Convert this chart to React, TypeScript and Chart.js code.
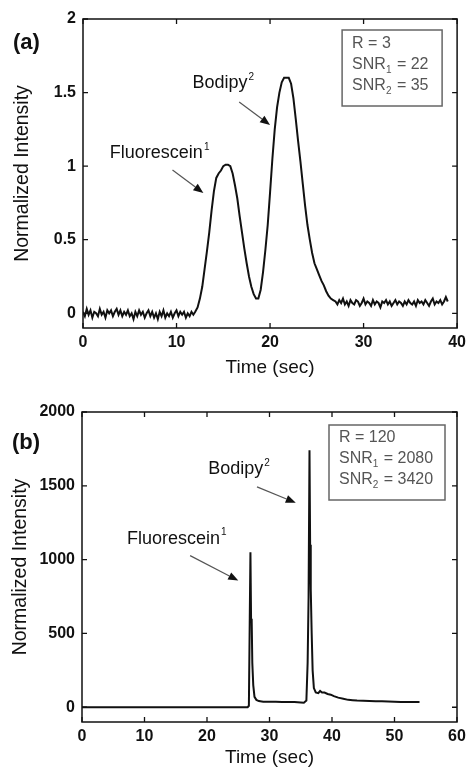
import React, { useEffect, useRef } from "react";
import { Chart, registerables } from "chart.js";

Chart.register(...registerables);

// ---------- DATA ----------
// Panel (a): [time (sec), normalized intensity]
const traceA: [number, number][] = [
  [0, 0.01], [0.2, -0.02], [0.4, 0.03], [0.6, -0.01], [0.8, 0.02], [1.0, -0.03], [1.2, 0.01], [1.4, 0.0],
  [1.6, -0.02], [1.8, 0.03], [2.0, -0.01], [2.2, 0.01], [2.4, -0.03], [2.6, 0.02], [2.8, 0.0], [3.0, 0.02],
  [3.2, -0.02], [3.4, 0.01], [3.6, 0.03], [3.8, -0.01], [4.0, 0.02], [4.2, -0.02], [4.4, 0.01], [4.6, -0.01],
  [4.8, 0.02], [5.0, -0.02], [5.2, 0.0], [5.4, -0.04], [5.6, 0.01], [5.8, -0.02], [6.0, 0.02], [6.2, -0.01],
  [6.4, 0.01], [6.6, -0.03], [6.8, 0.0], [7.0, 0.02], [7.2, -0.02], [7.4, 0.01], [7.6, -0.03], [7.8, 0.0],
  [8.0, -0.04], [8.2, 0.01], [8.4, -0.02], [8.6, 0.02], [8.8, -0.03], [9.0, 0.0], [9.2, -0.02], [9.4, 0.01],
  [9.6, -0.03], [9.8, 0.0], [10.0, 0.02], [10.2, -0.02], [10.4, 0.01], [10.6, -0.01], [10.8, 0.01], [11.0, -0.03],
  [11.2, 0.0], [11.4, -0.02], [11.6, 0.01], [11.8, -0.01],
  [12.0, 0.01], [12.25, 0.04], [12.5, 0.1], [12.75, 0.18], [13.0, 0.3], [13.25, 0.42], [13.5, 0.55], [13.75, 0.7],
  [14.0, 0.83], [14.25, 0.92], [14.5, 0.95], [14.75, 0.97], [15.0, 1.0], [15.25, 1.01], [15.5, 1.01], [15.75, 1.0],
  [16.0, 0.95], [16.25, 0.87], [16.5, 0.78], [16.75, 0.66], [17.0, 0.55], [17.25, 0.44], [17.5, 0.34], [17.75, 0.25],
  [18.0, 0.18], [18.25, 0.13], [18.5, 0.1], [18.75, 0.1], [19.0, 0.16], [19.25, 0.28], [19.5, 0.43], [19.75, 0.6],
  [20.0, 0.82], [20.25, 1.05], [20.5, 1.25], [20.75, 1.4], [21.0, 1.5], [21.25, 1.57], [21.5, 1.6], [21.75, 1.6],
  [22.0, 1.6], [22.25, 1.56], [22.5, 1.46], [22.75, 1.32], [23.0, 1.17], [23.25, 1.03], [23.5, 0.88], [23.75, 0.73],
  [24.0, 0.6], [24.25, 0.5], [24.5, 0.41], [24.75, 0.34], [25.0, 0.3], [25.25, 0.26], [25.5, 0.22], [25.75, 0.19],
  [26.0, 0.15], [26.25, 0.12], [26.5, 0.1], [26.75, 0.09], [27.0, 0.08],
  [27.2, 0.06], [27.4, 0.09], [27.6, 0.07], [27.8, 0.1], [28.0, 0.06], [28.2, 0.08], [28.4, 0.05], [28.6, 0.09],
  [28.8, 0.07], [29.0, 0.06], [29.2, 0.09], [29.4, 0.08], [29.6, 0.05], [29.8, 0.07], [30.0, 0.1], [30.2, 0.06],
  [30.4, 0.08], [30.6, 0.07], [30.8, 0.05], [31.0, 0.09], [31.2, 0.06], [31.4, 0.08], [31.6, 0.07], [31.8, 0.04],
  [32.0, 0.08], [32.2, 0.07], [32.4, 0.09], [32.6, 0.06], [32.8, 0.08], [33.0, 0.05], [33.2, 0.07], [33.4, 0.09],
  [33.6, 0.06], [33.8, 0.08], [34.0, 0.07], [34.2, 0.05], [34.4, 0.08], [34.6, 0.06], [34.8, 0.09], [35.0, 0.07],
  [35.2, 0.06], [35.4, 0.08], [35.6, 0.05], [35.8, 0.09], [36.0, 0.07], [36.2, 0.08], [36.4, 0.06], [36.6, 0.09],
  [36.8, 0.07], [37.0, 0.05], [37.2, 0.08], [37.4, 0.1], [37.6, 0.06], [37.8, 0.08], [38.0, 0.07], [38.2, 0.09],
  [38.4, 0.06], [38.6, 0.08], [38.8, 0.11], [39.0, 0.08],
];

// Panel (b): [time (sec), normalized intensity]
const traceB: [number, number][] = [
  [0, 0], [26.5, 0], [26.7, 10], [26.85, 640], [26.95, 1050], [27.05, 600], [27.15, 590], [27.25, 300],
  [27.4, 150], [27.6, 70], [27.9, 50], [28.3, 42], [29, 38], [30, 38], [31, 37], [32, 36], [33, 36], [34, 35],
  [35, 32], [35.5, 30], [35.9, 45], [36.1, 300], [36.25, 740], [36.4, 1740], [36.5, 1100], [36.6, 800],
  [36.75, 500], [36.9, 250], [37.1, 130], [37.4, 100], [37.8, 95], [38.1, 110], [38.4, 100], [38.8, 100],
  [39.3, 90], [39.8, 85], [40.3, 75], [41, 65], [41.8, 58], [42.6, 50], [43.3, 48], [44, 45], [45, 44],
  [46, 42], [47, 40], [48, 40], [49, 39], [50, 38], [51, 36], [52, 35], [53, 35], [54, 35],
];

const xTicksA = [0, 10, 20, 30, 40];
const yTicksA = [0, 0.5, 1, 1.5, 2];
const xTicksB = [0, 10, 20, 30, 40, 50, 60];
const yTicksB = [0, 500, 1000, 1500, 2000];

const xTitle = "Time (sec)";
const yTitle = "Normalized Intensity";

type StatLine = { pre: string; sub?: string; post?: string };
const statsA: StatLine[] = [
  { pre: "R = 3" },
  { pre: "SNR", sub: "1", post: " = 22" },
  { pre: "SNR", sub: "2", post: " = 35" },
];
const statsB: StatLine[] = [
  { pre: "R = 120" },
  { pre: "SNR", sub: "1", post: " = 2080" },
  { pre: "SNR", sub: "2", post: " = 3420" },
];

type Note = { text: string; sup: string; tx: number; ty: number; from: [number, number]; to: [number, number] };
const notesA: Note[] = [
  { text: "Fluorescein", sup: "1", tx: 2.87, ty: 1.09, from: [9.57, 0.974], to: [12.87, 0.818] },
  { text: "Bodipy", sup: "2", tx: 11.7, ty: 1.566, from: [16.7, 1.436], to: [20.0, 1.28] },
];
const notesB: Note[] = [
  { text: "Fluorescein", sup: "1", tx: 7.2, ty: 1142, from: [17.3, 1027], to: [25.0, 858] },
  { text: "Bodipy", sup: "2", tx: 20.2, ty: 1615, from: [28.0, 1493], to: [34.2, 1385] },
];

// ---------- LAYOUT / STYLE ----------
const FONT = "'Liberation Sans', Arial, sans-serif";

type PanelCfg = {
  label: string;
  trace: [number, number][];
  xTicks: number[];
  yTicks: number[];
  xMin: number; xMax: number; yMin: number; yMax: number;
  stats: StatLine[];
  notes: Note[];
  height: number;
  padTop: number; padRight: number;
  yAxisW: number; xAxisH: number;
  yTitlePad: number; xTitlePad: number;
  box: { right: number; top: number; w: number; h: number; rows: number[] };
  labelPos: { dx: number; y: number };
};

const panelA: PanelCfg = {
  label: "(a)", trace: traceA, xTicks: xTicksA, yTicks: yTicksA,
  xMin: 0, xMax: 40, yMin: -0.1, yMax: 2,
  stats: statsA, notes: notesA,
  height: 384, padTop: 19, padRight: 11, yAxisW: 83, xAxisH: 56,
  yTitlePad: 11, xTitlePad: 5,
  box: { right: 15, top: 11, w: 100, h: 76, rows: [14, 35, 56] },
  labelPos: { dx: 13, y: 43 },
};
const panelB: PanelCfg = {
  label: "(b)", trace: traceB, xTicks: xTicksB, yTicks: yTicksB,
  xMin: 0, xMax: 60, yMin: -100, yMax: 2000,
  stats: statsB, notes: notesB,
  height: 385, padTop: 28, padRight: 14, yAxisW: 82, xAxisH: 47,
  yTitlePad: 9, xTitlePad: 0,
  box: { right: 12, top: 13, w: 116, h: 75, rows: [13, 34, 55] },
  labelPos: { dx: 12, y: 59 },
};

function decorPlugin(cfg: PanelCfg) {
  return {
    id: "decor",
    afterDraw(chart: any) {
      const ctx: CanvasRenderingContext2D = chart.ctx;
      const a = chart.chartArea;
      const xs = chart.scales.x;
      const ys = chart.scales.y;
      ctx.save();
      // frame
      ctx.strokeStyle = "#111";
      ctx.lineWidth = 1.5;
      ctx.strokeRect(a.left, a.top, a.right - a.left, a.bottom - a.top);
      // inward ticks on all sides
      ctx.lineWidth = 1.3;
      const tl = 5;
      ctx.beginPath();
      xs.ticks.forEach((t: any) => {
        const p = xs.getPixelForValue(t.value);
        ctx.moveTo(p, a.bottom); ctx.lineTo(p, a.bottom - tl);
        ctx.moveTo(p, a.top); ctx.lineTo(p, a.top + tl);
      });
      ys.ticks.forEach((t: any) => {
        const p = ys.getPixelForValue(t.value);
        ctx.moveTo(a.left, p); ctx.lineTo(a.left + tl, p);
        ctx.moveTo(a.right, p); ctx.lineTo(a.right - tl, p);
      });
      ctx.stroke();

      // annotations
      cfg.notes.forEach((n) => {
        const x = xs.getPixelForValue(n.tx);
        const y = ys.getPixelForValue(n.ty);
        ctx.fillStyle = "#111";
        ctx.font = `18px ${FONT}`;
        ctx.textAlign = "left";
        ctx.textBaseline = "middle";
        ctx.fillText(n.text, x, y);
        const w = ctx.measureText(n.text).width;
        ctx.font = `10px ${FONT}`;
        ctx.fillText(n.sup, x + w + 1, y - 6);
        // arrow
        const x0 = xs.getPixelForValue(n.from[0]);
        const y0 = ys.getPixelForValue(n.from[1]);
        const x1 = xs.getPixelForValue(n.to[0]);
        const y1 = ys.getPixelForValue(n.to[1]);
        const ang = Math.atan2(y1 - y0, x1 - x0);
        const hl = 10, hw = 4;
        const bx = x1 - hl * Math.cos(ang);
        const by = y1 - hl * Math.sin(ang);
        ctx.strokeStyle = "#555";
        ctx.lineWidth = 1.2;
        ctx.beginPath();
        ctx.moveTo(x0, y0); ctx.lineTo(bx, by);
        ctx.stroke();
        ctx.fillStyle = "#111";
        ctx.beginPath();
        ctx.moveTo(x1, y1);
        ctx.lineTo(bx + hw * Math.sin(ang), by - hw * Math.cos(ang));
        ctx.lineTo(bx - hw * Math.sin(ang), by + hw * Math.cos(ang));
        ctx.closePath();
        ctx.fill();
      });

      // stats box
      const b = cfg.box;
      const bx0 = a.right - b.right - b.w;
      const by0 = a.top + b.top;
      ctx.fillStyle = "#fff";
      ctx.fillRect(bx0, by0, b.w, b.h);
      ctx.strokeStyle = "#666";
      ctx.lineWidth = 1.5;
      ctx.strokeRect(bx0, by0, b.w, b.h);
      ctx.fillStyle = "#555";
      ctx.textAlign = "left";
      ctx.textBaseline = "middle";
      cfg.stats.forEach((s, i) => {
        const ty = by0 + b.rows[i];
        let tx = bx0 + 10;
        ctx.font = `16px ${FONT}`;
        ctx.fillText(s.pre, tx, ty);
        tx += ctx.measureText(s.pre).width;
        if (s.sub) {
          ctx.font = `10px ${FONT}`;
          ctx.fillText(s.sub, tx, ty + 5);
          tx += ctx.measureText(s.sub).width + 1;
        }
        if (s.post) {
          ctx.font = `16px ${FONT}`;
          ctx.fillText(s.post, tx, ty);
        }
      });

      // panel label
      ctx.fillStyle = "#111";
      ctx.font = `bold 22px ${FONT}`;
      ctx.textAlign = "left";
      ctx.textBaseline = "middle";
      ctx.fillText(cfg.label, cfg.labelPos.dx, cfg.labelPos.y);
      ctx.restore();
    },
  };
}

function Panel({ cfg }: { cfg: PanelCfg }) {
  const ref = useRef<HTMLCanvasElement | null>(null);
  useEffect(() => {
    if (!ref.current) return;
    const chart = new Chart(ref.current, {
      type: "line",
      data: {
        datasets: [
          {
            data: cfg.trace.map(([x, y]) => ({ x, y })),
            borderColor: "#111",
            borderWidth: 2,
            pointRadius: 0,
            tension: 0,
            fill: false,
          },
        ],
      },
      options: {
        responsive: false,
        animation: false,
        devicePixelRatio: 1,
        layout: { padding: { top: cfg.padTop, right: cfg.padRight, left: 0, bottom: 0 } },
        plugins: { legend: { display: false }, tooltip: { enabled: false } },
        scales: {
          x: {
            type: "linear",
            min: cfg.xMin,
            max: cfg.xMax,
            afterBuildTicks: (s: any) => { s.ticks = cfg.xTicks.map((v) => ({ value: v })); },
            afterFit: (s: any) => { s.height = cfg.xAxisH; },
            grid: { display: false, drawTicks: false },
            border: { display: false },
            ticks: {
              padding: 5,
              color: "#111",
              font: { family: FONT, size: 16, weight: "bold" },
              maxRotation: 0,
              autoSkip: false,
              callback: (v: any) => String(v),
            },
            title: {
              display: true,
              text: xTitle,
              color: "#111",
              font: { family: FONT, size: 19 },
              padding: { top: 0, bottom: cfg.xTitlePad },
            },
          },
          y: {
            type: "linear",
            min: cfg.yMin,
            max: cfg.yMax,
            afterBuildTicks: (s: any) => { s.ticks = cfg.yTicks.map((v) => ({ value: v })); },
            afterFit: (s: any) => { s.width = cfg.yAxisW; },
            grid: { display: false, drawTicks: false },
            border: { display: false },
            ticks: {
              padding: 7,
              color: "#111",
              font: { family: FONT, size: 16, weight: "bold" },
              autoSkip: false,
              callback: (v: any) => String(v),
            },
            title: {
              display: true,
              text: yTitle,
              color: "#111",
              font: { family: FONT, size: 19.5 },
              padding: { top: cfg.yTitlePad, bottom: 0 },
            },
          },
        },
      },
      plugins: [decorPlugin(cfg)],
    } as any);
    return () => chart.destroy();
  }, [cfg]);
  return <canvas ref={ref} width={471} height={cfg.height} style={{ display: "block", width: 471, height: cfg.height }} />;
}

export default function App() {
  return (
    <div style={{ position: "absolute", left: 0, top: 0, width: 471, height: 769, background: "#fff" }}>
      <Panel cfg={panelA} />
      <Panel cfg={panelB} />
    </div>
  );
}
